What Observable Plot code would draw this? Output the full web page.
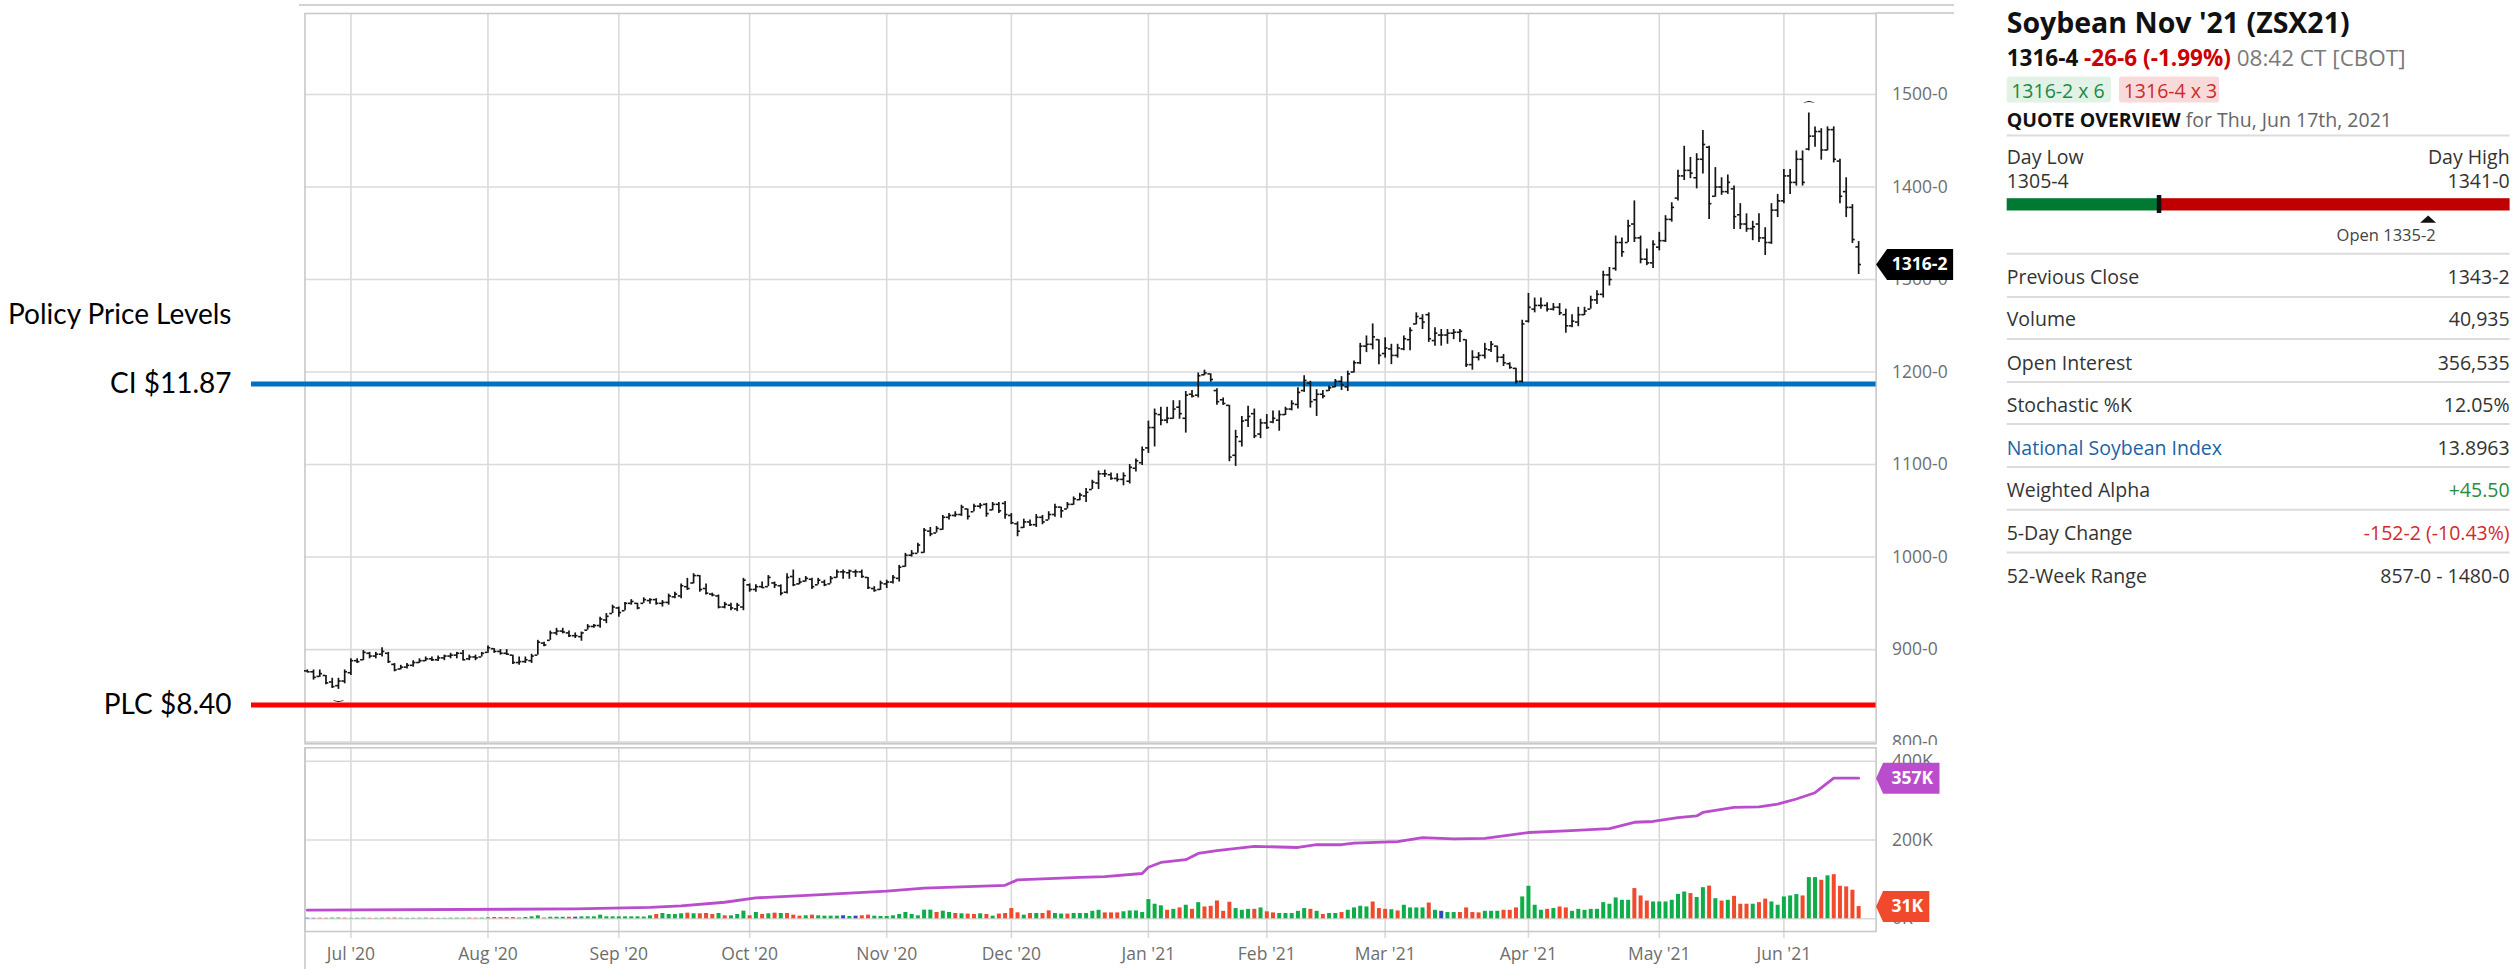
<!DOCTYPE html>
<html><head><meta charset="utf-8">
<script src="https://cdn.jsdelivr.net/npm/d3@7"></script>
<script src="https://cdn.jsdelivr.net/npm/@observablehq/plot@0.6"></script>
<style>
html,body{margin:0;padding:0;background:#fff;}
#wrap{position:relative;width:2517px;height:969px;overflow:hidden;background:#fff;}
#price{position:absolute;left:0;top:0;}
#volume{position:absolute;left:0;top:745px;}
#quote{position:absolute;left:1990px;top:0;}
.hline{position:absolute;height:1.5px;background:#d2d2d2;}
</style></head><body>
<div id="wrap">
<div id="price"></div>
<div id="volume"></div>
<div class="hline" style="left:299px;top:4px;width:1655px"></div>
<div class="hline" style="left:1875px;top:12px;width:79px"></div>
<svg id="quote" width="527" height="969"></svg>
</div>
<script>
// ---------------- DATA ----------------
const firstDay = "2020-06-22";
const lastDay = "2021-06-17";
const holidays = ["2020-07-03","2020-09-07","2020-11-26","2020-12-25","2021-01-01","2021-01-18","2021-02-15","2021-04-02","2021-05-31"];

const opens = [
877,876,871,872,865,861,866,875,888,889, 896,893,895,896,884,879,881,883,886,888,
890,889,891,893,894,896,890,892,892,897, 901,898,896,894,886,887,888,894,907,910,
918,920,918,915,914,921,925,926,932,939, 945,942,950,950,950,953,954,950,951,957,
958,968,972,980,966,960,958,946,948,944, 946,970,965,968,968,972,969,962,979,971,
974,976,970,973,971,978,984,983,984,984, 978,966,965,971,973,977,990,1002,1004,1005,
1028,1026,1030,1043,1045,1046,1052,1049,1055,1057, 1051,1057,1058,1045,1036,1032,1038,1035,1043,1040,
1046,1054,1052,1057,1062,1066,1073,1080,1090,1089, 1085,1084,1082,1096,1102,1118,1140,1154,1148,1150,
1162,1150,1176,1175,1197,1198,1180,1170,1164,1110, 1125,1148,1155,1133,1145,1146,1148,1154,1160,1165,
1180,1188,1170,1176,1180,1184,1190,1184,1200,1210, 1228,1230,1235,1220,1225,1218,1225,1235,1252,1258,
1262,1234,1240,1240,1242,1243,1235,1208,1216,1218, 1224,1228,1216,1209,1204,1190,1255,1268,1272,1272,
1268,1270,1262,1250,1254,1262,1268,1278,1284,1305, 1312,1340,1340,1360,1345,1322,1318,1335,1342,1365,
1388,1412,1418,1410,1430,1443,1390,1400,1395,1398, 1370,1360,1355,1360,1345,1340,1375,1385,1412,1405,
1430,1441,1455,1460,1440,1462,1428,1395,1378,1335.25];
const highs = [
878,878,878,872,869,869,878,890,890,899, 897,897,902,897,885,883,885,888,890,892,
892,893,894,896,897,899,894,894,897,904, 901,900,900,894,892,892,895,910,908,920,
923,923,920,918,919,927,927,935,939,948, 946,951,954,950,956,955,955,953,960,962,
971,977,982,980,971,961,959,951,950,950, 977,971,970,973,980,973,970,982,986,977,
979,977,977,975,979,986,986,986,986,986, 978,968,974,975,980,991,1004,1007,1015,1031,
1032,1033,1045,1047,1049,1056,1052,1057,1058,1058, 1059,1059,1060,1047,1038,1041,1040,1046,1045,1049,
1057,1054,1059,1065,1069,1074,1083,1093,1094,1091, 1090,1091,1100,1106,1119,1147,1160,1162,1162,1169,
1169,1179,1180,1199,1202,1198,1182,1172,1164,1137, 1152,1163,1160,1149,1154,1158,1158,1162,1169,1183,
1196,1190,1181,1180,1185,1192,1195,1201,1212,1231, 1239,1252,1235,1237,1230,1230,1239,1248,1264,1262,
1264,1248,1246,1246,1246,1246,1235,1223,1221,1231, 1233,1228,1219,1210,1204,1256,1285,1280,1280,1275,
1274,1274,1268,1262,1270,1270,1282,1288,1309,1313, 1347,1345,1364,1385,1347,1333,1342,1351,1369,1383,
1418,1444,1432,1436,1461,1444,1421,1410,1413,1401, 1382,1371,1363,1371,1356,1382,1392,1419,1419,1439,
1439,1480,1465,1463,1465,1465,1430,1410,1381,1341];
const lows = [
875,867,870,862,858,857,863,872,885,888, 890,890,892,885,876,878,879,881,885,887,
887,887,888,890,890,888,888,888,892,896, 896,894,894,884,883,885,885,894,903,910,
915,917,913,912,909,921,923,923,928,939, 935,942,948,943,950,949,948,946,948,955,
955,964,971,962,959,957,944,944,942,941, 942,962,962,966,968,966,958,960,968,970,
973,965,970,968,971,977,976,976,978,977, 965,962,964,966,971,973,989,1000,1004,1004,
1022,1026,1029,1040,1043,1044,1040,1049,1052,1043, 1050,1047,1041,1035,1022,1031,1033,1032,1035,1040,
1043,1042,1052,1056,1061,1059,1073,1073,1086,1083, 1081,1077,1079,1092,1099,1112,1119,1142,1144,1149,
1149,1134,1172,1172,1196,1189,1164,1164,1103,1098, 1119,1140,1128,1128,1138,1144,1136,1153,1158,1160,
1178,1161,1152,1171,1179,1183,1180,1179,1199,1208, 1221,1224,1208,1215,1208,1215,1223,1223,1251,1246,
1232,1228,1228,1230,1235,1232,1205,1202,1212,1214, 1221,1210,1206,1203,1187,1188,1253,1264,1268,1265,
1266,1261,1242,1248,1249,1261,1268,1273,1280,1293, 1309,1324,1340,1340,1317,1315,1312,1331,1340,1362,
1385,1407,1409,1398,1414,1365,1389,1391,1392,1354, 1354,1351,1342,1340,1326,1338,1367,1382,1392,1401,
1401,1439,1443,1429,1439,1426,1382,1367,1339,1305.5];
const closes = [
876,870,874,864,860,866,876,888,887,897, 893,895,898,887,878,881,883,886,888,890,
889,891,893,894,896,889,892,891,896,902, 898,896,895,886,887,889,893,908,905,918,
920,919,915,915,918,925,926,933,936,946, 940,950,952,945,954,954,950,951,958,960,
969,966,980,965,961,959,946,949,945,948, 975,965,968,967,978,970,961,978,970,973,
977,968,975,970,977,984,984,985,984,979, 967,964,972,973,978,989,1002,1004,1013,1029,
1025,1031,1043,1045,1046,1054,1044,1055,1056,1047, 1057,1050,1046,1037,1028,1038,1035,1043,1038,1046,
1054,1050,1057,1063,1067,1070,1081,1090,1090,1085, 1084,1088,1097,1104,1116,1140,1155,1148,1150,1160,
1155,1175,1174,1196,1199,1192,1168,1166,1108,1130, 1147,1152,1131,1145,1140,1150,1154,1160,1166,1178,
1191,1168,1176,1174,1183,1190,1186,1198,1210,1228, 1230,1238,1218,1226,1218,1226,1236,1245,1260,1254,
1236,1242,1240,1242,1243,1244,1208,1216,1218,1225, 1230,1216,1210,1205,1190,1252,1270,1272,1272,1268,
1270,1264,1250,1255,1262,1266,1278,1284,1305,1300, 1340,1330,1358,1345,1322,1318,1338,1342,1365,1378,
1412,1418,1415,1430,1446,1382,1400,1395,1405,1368, 1360,1355,1357,1345,1340,1375,1385,1412,1405,1430,
1405,1455,1460,1440,1462,1430,1390,1378,1343.25,1316.25];

// volume in thousands of contracts
const volumeK = [
1.5,1.2,1.5,1.3,1.8,2,1.5,1.2,1.4,1.6, 1.3,1.2,1.5,1.7,1.9,1.4,1.2,1.3,1.5,1.6,
1.4,1.2,1.3,1.5,1.6,1.4,1.8,1.5,1.6,2.5, 3.3,3,3,3,2,3.3,5,7.6,2,4,
4,4,4,4,5,5,5,9.3,5,5, 5,5,5,5,4.5,7.6,11,13.5,11,11,
12.7,14.3,12.7,12.7,13.5,11,13.5,7.6,7.6,11, 19.4,7.6,16,11,12.7,14.3,13.5,13.5,9.3,6.7,
7.6,9.3,7.6,6.7,6.7,6.7,7.6,5.9,6.7,7.6, 9.3,6.7,5.9,5.9,7.6,11,16,11,7.6,22,
22,16,19.4,16,13.5,12.7,12,11,12.7,11, 6.7,12,13.5,26,15.2,9.3,13.5,13.5,13.5,20.2,
13.5,12,12,13.5,13.5,13.4,19,21.6,15,15, 15,17.8,20,20,15.9,48.8,37,33,21.6,24,
27.6,34.4,24,41,30,31.8,45.3,19,42,26, 21.6,24,24,27.6,17.8,15,13.4,13.4,13.4,19,
26,24,19,11,13.4,13.4,15.9,21.6,27.6,31.8, 30,42.7,26,24,23,20,34.4,27.6,27.6,27.6,
40,21.6,19,15.9,15.9,15.9,27.6,15.9,15,19, 19,19,21.6,21.6,27.6,55.5,82.6,34.4,21.6,24,
26,30,27.6,19,24,21.6,24,24,41,37, 53,47,47,76.7,58,45,42.7,42.7,42.7,47,
62,68,64,54,79,83,51,45,47,57, 37,37,37,41,50,42.7,34.4,55.5,58,61.5,
58,104.6,104.6,97.8,109,112,82.6,80.9,72.5,31];
// volume bar direction: u = up day, d = down day, n = unchanged
const volumeDir = (
"n n d d u u d u u u  d u u d d u u u u u  d u u u u u d d u u  d d d d u u u u d u " +
"u u d n u u u u u u  u u u u u u d u u u  u d u d d d u d u u  u d u d u d u d d d " +
"u d u u u u n u n d  d u u u u u u u u u  u d u u d u d d u d  u d d d d u d u d d " +
"u u d u u u u u d d  d u u u u u u u d u  d u d u d d d d d u  u u d u d d u u u u " +
"u d u d u u d u u u  u d d d u d u u u u  d u n u u d d d d u  u u d d d u u u u d " +
"u d d u u u u u u u  u u u d d d u u u u  u u d u u d u d u d  d d u d d u u u u u " +
"d u u d u d d d d d").trim().split(/\s+/);

// open interest (trading-day index, thousands of contracts)
const oiIdx = [0,43,55,60,67,72,81,93,99,112,114,124,128,134,135,137,141,143,146,152,159,162,166,168,175,179,184,189,196,202,209,213,216,220,223,224,229,233,236,239,242,245,249];
const oiK   = [22,25,29,33,42,53,60,70,78,85,99,105,107,115,131,143,150,166,173,184,181,188,188,192,196,206,203,204,219,223,229,245,247,257,261,270,283,284,291,304,320,357,357];

const policyLabels = ["CI $11.87", "PLC $8.40"];
const policyCents = [1187, 840];
const policyTitle = "Policy Price Levels";
const policyTitleCents = 1262;

const priceTicks = [800, 900, 1000, 1100, 1200, 1300, 1400, 1500];
const volumeTicks = [0, 200000, 400000];

const quoteTitle = "Soybean Nov '21 (ZSX21)";
const quoteLast = "1316-4", quoteChange = "-26-6 (-1.99%)", quoteTime = "08:42 CT [CBOT]";
const bidText = "1316-2 x 6", askText = "1316-4 x 3";
const overviewHead = "QUOTE OVERVIEW", overviewDate = "for Thu, Jun 17th, 2021";
const dayLow = 1305.5, dayHigh = 1341.0, dayOpen = 1335.25, dayLast = 1316.25;
const quoteRows = ["Previous Close","Volume","Open Interest","Stochastic %K","National Soybean Index","Weighted Alpha","5-Day Change","52-Week Range"];
const quoteValues = ["1343-2","40,935","356,535","12.05%","13.8963","+45.50","-152-2 (-10.43%)","857-0 - 1480-0"];

// ---------------- STYLE / LAYOUT ----------------
const W = 1960;
const frameL = 304.5, frameR = 1875.6;
const xMin = -0.37, xMax = 251.8;
const gridC = "#dadada", frameC = "#c9c9c9";
const policyColors = ["#0070c0", "#ff0000"];
const dirColor = {u: "#0dad4a", d: "#f0492c", n: "#2a4cc0"};
const oiColor = "#b94dcc";
const fontUI = "'Open Sans', 'Noto Sans', sans-serif";

// trading days
const hol = new Set(holidays);
const fmtDay = d3.utcFormat("%Y-%m-%d");
const days = [];
for (let d = new Date(firstDay + "T00:00Z"); d <= new Date(lastDay + "T00:00Z"); d = d3.utcDay.offset(d, 1)) {
  const wd = d.getUTCDay();
  if (wd > 0 && wd < 6 && !hol.has(fmtDay(d))) days.push(d);
}
const monthIdx = days.map((d, i) => (i > 0 && d.getUTCMonth() !== days[i - 1].getUTCMonth()) ? i : -1).filter(i => i >= 0);
const monthFmt = d3.utcFormat("%b '%y");

const bars = days.map((d, i) => ({i, date: d, open: opens[i], high: highs[i], low: lows[i], close: closes[i]}));
const vol = days.map((d, i) => ({i, v: volumeK[i] * 1000, dir: volumeDir[i]}));
const oi = oiIdx.map((i, k) => ({i, v: oiK[k] * 1000}));
const policy = policyLabels.map((label, k) => ({label, cents: policyCents[k], k}));
const annotations = [{label: policyTitle, cents: policyTitleCents}, ...policy];

function fmtPrice(p) { const w = Math.floor(p); return w + "-" + Math.round((p - w) * 8); }
function tagSymbol(w, h, notch) {
  return {draw(ctx) { ctx.moveTo(0, 0); ctx.lineTo(notch, -h / 2); ctx.lineTo(w, -h / 2); ctx.lineTo(w, h / 2); ctx.lineTo(notch, h / 2); ctx.closePath(); }};
}

// price scale geometry
const pH = 745, pTop = 13, pBot = 1.7;
const kP = (741.6 - 94) / 700;
const yLo = 800 - ((pH - pBot) - 741.6) / kP;
const yHi = 1500 + (94 - pTop) / kP;
const pxPerIdx = (frameR - frameL) / (xMax - xMin);
const idxAt = px => xMin + (px - frameL) / pxPerIdx;

const lowI = d3.minIndex(lows), highI = d3.maxIndex(highs);
const lastBar = bars[bars.length - 1];
const barC = "#151515";

const priceChart = Plot.plot({
  width: W, height: pH,
  marginLeft: frameL, marginRight: W - frameR, marginTop: pTop, marginBottom: pBot,
  style: {background: "transparent", fontFamily: fontUI, fontSize: "17.5px", color: "#6e6e6e", overflow: "hidden"},
  x: {domain: [xMin, xMax], axis: null},
  y: {domain: [yLo, yHi], axis: "right", ticks: priceTicks, tickFormat: d => `${d}-0`, tickSize: 0, tickPadding: 16, label: null},
  marks: [
    Plot.ruleY(priceTicks, {stroke: gridC, strokeWidth: 1.6}),
    Plot.ruleX(monthIdx, {stroke: gridC, strokeWidth: 1.6}),
    Plot.frame({stroke: frameC, strokeWidth: 1.6}),
    Plot.ruleY(policy, {y: "cents", x1: idxAt(251), x2: xMax, stroke: d => policyColors[d.k], strokeWidth: 5}),
    Plot.text(annotations, {x: idxAt(231), y: "cents", text: "label", textAnchor: "end", fontFamily: "Lato, 'Open Sans', sans-serif", fontSize: 28, fill: "#000"}),
    Plot.ruleX(bars, {x: "i", y1: "low", y2: "high", stroke: barC, strokeWidth: 1.7}),
    Plot.ruleY(bars, {y: "open", x1: d => d.i - 0.45, x2: "i", stroke: barC, strokeWidth: 1.6}),
    Plot.ruleY(bars, {y: "close", x1: "i", x2: d => d.i + 0.45, stroke: barC, strokeWidth: 1.6}),
    Plot.text([bars[lowI]], {x: "i", y: "low", text: () => "\u203F", dy: 6, fontSize: 11, fontFamily: "DejaVu Sans", fill: barC}),
    Plot.text([bars[highI]], {x: "i", y: "high", text: () => "\u2040", dy: -6, fontSize: 11, fontFamily: "DejaVu Sans", fill: barC}),
    Plot.dot([lastBar], {x: () => xMax, y: "close", symbol: tagSymbol(77, 31, 11), r: 4, fill: "#000"}),
    Plot.text([lastBar], {x: () => xMax, y: "close", text: d => fmtPrice(d.close), dx: 43.5, fill: "#fff", fontWeight: 700, fontSize: 17.5, fontFamily: fontUI})
  ]
});
document.getElementById("price").appendChild(priceChart);

// volume panel geometry
const vH = 224, vTop = 2.3, vBot = 38;
const kV = (173.3 - 15.7) / 400000;
const vHi = 400000 + (15.7 - vTop) / kV;
const vLo = -((vH - vBot) - 173.3) / kV;
const vTickEnd = -(193 - 173.3) / kV;
const vBottom = -(vH - 173.3) / kV;
const lastVol = vol[vol.length - 1];
const lastOi = oi[oi.length - 1];

const volumeChart = Plot.plot({
  width: W, height: vH,
  marginLeft: frameL, marginRight: W - frameR, marginTop: vTop, marginBottom: vBot,
  style: {background: "transparent", fontFamily: fontUI, fontSize: "17.5px", color: "#6e6e6e", overflow: "hidden"},
  x: {domain: [xMin, xMax], axis: "bottom", ticks: monthIdx, tickFormat: i => monthFmt(days[i]), tickSize: 0, tickPadding: 15.9, label: null},
  y: {domain: [vLo, vHi], axis: "right", ticks: volumeTicks, tickFormat: d => (d / 1000) + "K", tickSize: 0, tickPadding: 16, label: null},
  marks: [
    Plot.ruleY(volumeTicks, {stroke: gridC, strokeWidth: 1.6}),
    Plot.ruleX(monthIdx, {y1: vHi, y2: vTickEnd, stroke: gridC, strokeWidth: 1.6}),
    Plot.frame({stroke: frameC, strokeWidth: 1.6}),
    Plot.ruleX([xMin], {y1: vHi, y2: vBottom, stroke: frameC, strokeWidth: 1.6}),
    Plot.ruleX(vol, {x: "i", y1: 0, y2: "v", stroke: d => dirColor[d.dir], strokeWidth: 4}),
    Plot.line(oi, {x: "i", y: "v", stroke: oiColor, strokeWidth: 2.8}),
    Plot.dot([lastOi], {x: () => xMax, y: "v", symbol: tagSymbol(63.4, 31, 7), r: 4, fill: oiColor}),
    Plot.text([lastOi], {x: () => xMax, y: "v", text: d => Math.round(d.v / 1000) + "K", dx: 36.3, fill: "#fff", fontWeight: 700, fontSize: 17.5, fontFamily: fontUI}),
    Plot.dot([lastVol], {x: () => xMax, y: "v", symbol: tagSymbol(53.2, 31, 7), r: 4, fill: dirColor.d}),
    Plot.text([lastVol], {x: () => xMax, y: "v", text: d => Math.round(d.v / 1000) + "K", dx: 31.2, fill: "#fff", fontWeight: 700, fontSize: 17.5, fontFamily: fontUI})
  ]
});
document.getElementById("volume").appendChild(volumeChart);

// ---------------- QUOTE PANEL ----------------
const q = d3.select("#quote").style("font-family", fontUI);
const L = 16.7, R = 519.6;
function t(x, y, s, opt = {}) {
  const e = q.append("text").attr("x", x).attr("y", y).text(s)
    .attr("font-size", opt.size || 19.5).attr("fill", opt.fill || "#333")
    .attr("font-weight", opt.weight || 400).attr("text-anchor", opt.anchor || "start");
  return e;
}
function hr(y) { q.append("line").attr("x1", L).attr("x2", R).attr("y1", y).attr("y2", y).attr("stroke", "#dcdcdc").attr("stroke-width", 2); }

t(L, 32.5, quoteTitle, {size: 28.5, weight: 700, fill: "#111"});
const l2 = q.append("text").attr("x", L).attr("y", 66.2).attr("font-size", 22.5);
l2.append("tspan").attr("font-weight", 700).attr("fill", "#111").text(quoteLast + " ");
l2.append("tspan").attr("font-weight", 700).attr("fill", "#cc0000").text(quoteChange + " ");
l2.append("tspan").attr("font-weight", 400).attr("fill", "#7a7a7a").text(quoteTime);

q.append("rect").attr("x", L).attr("y", 76.5).attr("width", 104.3).attr("height", 26).attr("rx", 3).attr("fill", "#e2f2e6");
t(L + 4.5, 98, bidText, {size: 19.5, fill: "#1c8a45"});
q.append("rect").attr("x", 129).attr("y", 76.5).attr("width", 100).attr("height", 26).attr("rx", 3).attr("fill", "#f9dada");
t(133.7, 98, askText, {size: 19.5, fill: "#cf2a2a"});

const l4 = q.append("text").attr("x", L).attr("y", 126.7).attr("font-size", 19.5);
l4.append("tspan").attr("font-weight", 700).attr("fill", "#111").text(overviewHead + " ");
l4.append("tspan").attr("font-weight", 400).attr("fill", "#666").text(overviewDate);
hr(135.5);

t(L, 163.8, "Day Low");
t(R, 163.8, "Day High", {anchor: "end"});
t(L, 188.3, fmtPrice(dayLow));
t(R, 188.3, fmtPrice(dayHigh), {anchor: "end"});
const rangeX = d3.scaleLinear().domain([dayLow, dayHigh]).range([L, R]);
q.append("rect").attr("x", L).attr("y", 198.2).attr("width", rangeX(dayLast) - L).attr("height", 12.3).attr("fill", "#007a33");
q.append("rect").attr("x", rangeX(dayLast)).attr("y", 198.2).attr("width", R - rangeX(dayLast)).attr("height", 12.3).attr("fill", "#c00000");
q.append("rect").attr("x", rangeX(dayLast) - 2.2).attr("y", 195).attr("width", 4.5).attr("height", 18).attr("fill", "#111");
const ox = rangeX(dayOpen);
q.append("path").attr("d", `M${ox - 8},222.7L${ox + 8},222.7L${ox},215.5Z`).attr("fill", "#111");
t(ox - 42, 241, "Open " + fmtPrice(dayOpen), {size: 16.5, fill: "#444", anchor: "middle"});
hr(253.7);

const rowBase = [284, 326, 369.7, 412, 455, 497, 540, 582.5];
const rowDiv = [297, 339, 382, 424, 467, 509.8, 552.6];
const labelFill = {"National Soybean Index": "#1b63a6"};
const valueFill = {"+45.50": "#2b8a3e", "-152-2 (-10.43%)": "#d42a2a"};
quoteRows.forEach((r, k) => {
  t(L, rowBase[k], r, {fill: labelFill[r] || "#333"});
  t(R, rowBase[k], quoteValues[k], {anchor: "end", fill: valueFill[quoteValues[k]] || "#333"});
  if (k < rowDiv.length) hr(rowDiv[k]);
});
</script>
</body></html>
